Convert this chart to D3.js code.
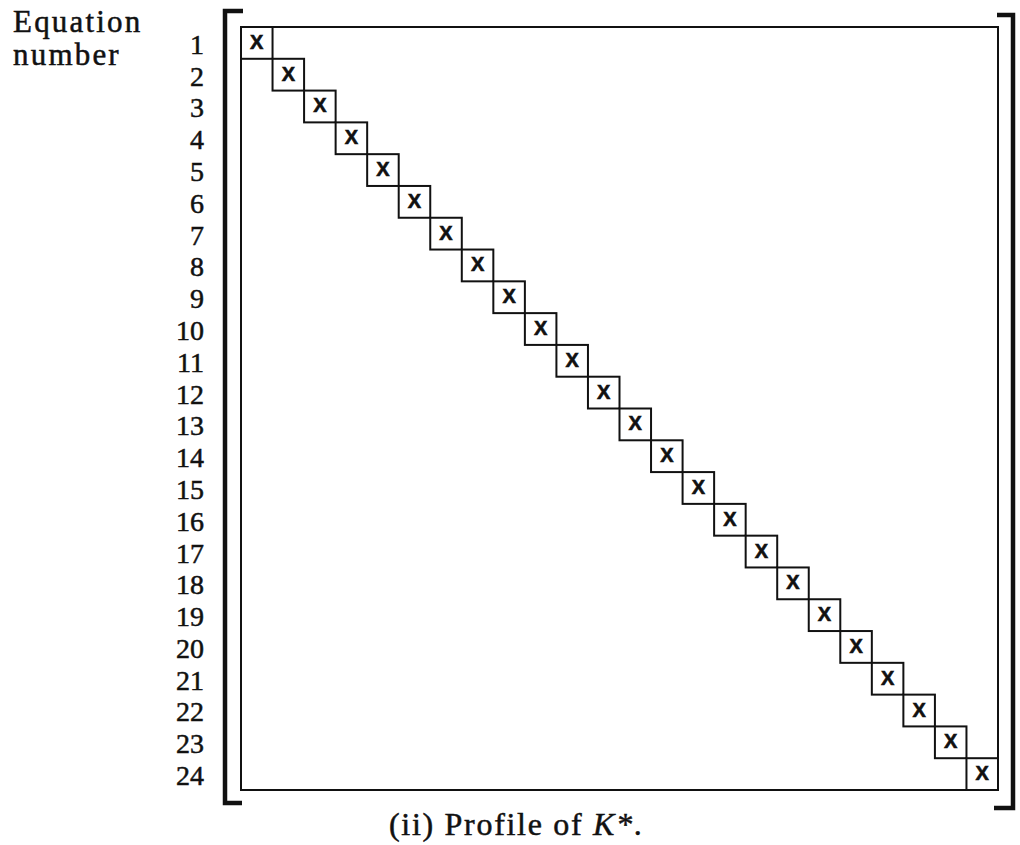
<!DOCTYPE html>
<html>
<head>
<meta charset="utf-8">
<script src="https://cdn.jsdelivr.net/npm/d3@7"></script>
<style>
  body { margin: 0; background: #fff; }
  svg { display: block; }
  .serif { font-family: "Liberation Serif", "DejaVu Serif", serif; fill: #111; stroke: #111; stroke-width: 0.5px; }
</style>
</head>
<body>
<svg id="chart"></svg>
<script>
// Profile of K* : diagonal matrix, 24 equations

// equation numbers (rows / columns)
const equations = [1, 2, 3, 4, 5, 6, 7, 8, 9, 10, 11, 12,
                   13, 14, 15, 16, 17, 18, 19, 20, 21, 22, 23, 24];

// non-zero entries [row, column]
const nonZero = [
  [1, 1], [2, 2], [3, 3], [4, 4], [5, 5], [6, 6],
  [7, 7], [8, 8], [9, 9], [10, 10], [11, 11], [12, 12],
  [13, 13], [14, 14], [15, 15], [16, 16], [17, 17], [18, 18],
  [19, 19], [20, 20], [21, 21], [22, 22], [23, 23], [24, 24]
];

const entryMark = "X";
const axisTitle = ["Equation", "number"];
const caption = "(ii) Profile of ";
const captionSymbol = "K*";

const width = 1020;
const height = 845;

const svg = d3.select("#chart")
    .attr("width", width)
    .attr("height", height)
    .attr("viewBox", `0 0 ${width} ${height}`);

// matrix area
const box = { left: 241, top: 27, right: 998, bottom: 790 };

const x = d3.scaleBand()
    .domain(equations)
    .range([box.left, box.right]);

const y = d3.scaleBand()
    .domain(equations)
    .range([box.top, box.bottom]);

// outer frame of the matrix
svg.append("rect")
    .attr("x", box.left)
    .attr("y", box.top)
    .attr("width", box.right - box.left)
    .attr("height", box.bottom - box.top)
    .attr("fill", "none")
    .attr("stroke", "#111")
    .attr("stroke-width", 2);

// brackets
const bracket = d3.line();
svg.append("path")
    .attr("d", bracket([[243, 11], [225, 11], [225, 803], [242, 803]]))
    .attr("fill", "none")
    .attr("stroke", "#111")
    .attr("stroke-width", 4.5);

svg.append("path")
    .attr("d", bracket([[997, 15], [1013, 15], [1013, 808], [994, 808]]))
    .attr("fill", "none")
    .attr("stroke", "#111")
    .attr("stroke-width", 4.5);

// diagonal cells
const cells = svg.append("g").attr("class", "cells");

cells.selectAll("rect")
    .data(nonZero)
    .enter()
    .append("rect")
    .attr("x", d => x(d[1]))
    .attr("y", d => y(d[0]))
    .attr("width", x.bandwidth())
    .attr("height", y.bandwidth())
    .attr("fill", "#fff")
    .attr("stroke", "#111")
    .attr("stroke-width", 2);

cells.selectAll("text")
    .data(nonZero)
    .enter()
    .append("text")
    .attr("x", d => x(d[1]) + x.bandwidth() / 2)
    .attr("y", d => y(d[0]) + y.bandwidth() / 2 - 1)
    .attr("text-anchor", "middle")
    .attr("dominant-baseline", "central")
    .style("font-family", "'Liberation Sans', Arial, sans-serif")
    .style("font-weight", "bold")
    .style("font-size", "20px")
    .style("fill", "#111")
    .style("stroke", "#111")
    .style("stroke-width", "0.6px")
    .text(entryMark);

// equation numbers
const yAxis = d3.axisLeft(y).tickSize(0).tickPadding(0);
const axisG = svg.append("g")
    .attr("transform", "translate(204,2)")
    .call(yAxis);
axisG.select(".domain").remove();
axisG.selectAll("text")
    .attr("class", "serif")
    .attr("fill", null)
    .style("font-size", "28px");

// axis title, one text per line
svg.selectAll(".axis-title")
    .data(axisTitle)
    .enter()
    .append("text")
    .attr("class", "serif axis-title")
    .attr("x", 13)
    .attr("y", (d, i) => 32 + i * 33)
    .style("font-size", "31px")
    .style("letter-spacing", "2.2px")
    .text(d => d);

// caption
const cap = svg.append("text")
    .attr("class", "serif")
    .attr("x", 389)
    .attr("y", 835)
    .style("font-size", "32px")
    .style("letter-spacing", "1.7px")
    .text(caption);
cap.append("tspan")
    .style("font-style", "italic")
    .text(captionSymbol);
cap.append("tspan").text(".");
</script>
</body>
</html>
